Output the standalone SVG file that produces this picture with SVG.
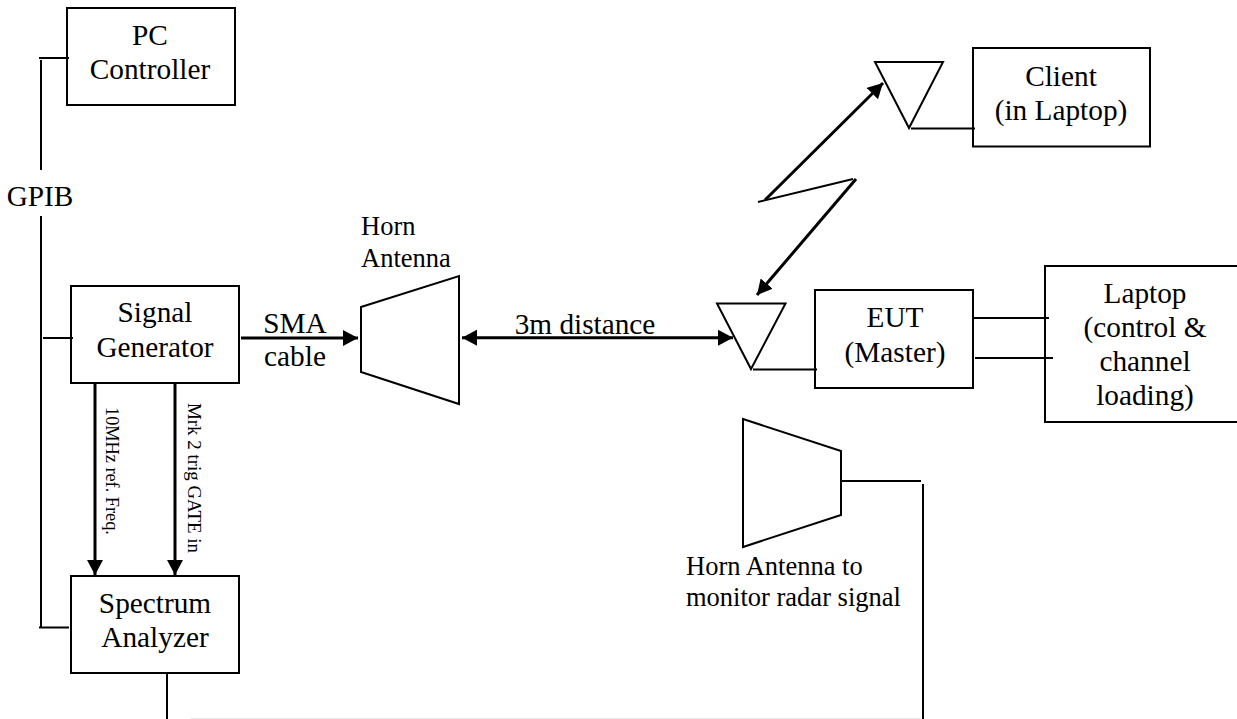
<svg xmlns="http://www.w3.org/2000/svg" width="1237" height="719" viewBox="0 0 1237 719">
<style>
text{font-family:"Liberation Serif","Times New Roman",serif;fill:#000}
.l{font-size:29.300px;text-anchor:middle}
.s{font-size:26.500px}
.r{font-size:18.300px}
.q{font-size:18.900px}
.b{fill:none;stroke:#000;stroke-width:2}
.c{fill:none;stroke:#000;stroke-width:2}
.a{fill:none;stroke:#000;stroke-width:3}
</style>
<defs>
<marker id="h" markerUnits="userSpaceOnUse" markerWidth="16" markerHeight="16" refX="15" refY="8" orient="auto-start-reverse"><path d="M0 0L15 8L0 16Z" fill="#000"/></marker>
</defs>
<rect width="1237" height="719" fill="#fff"/>
<g id="pc-controller"><rect class="b" x="67" y="8" width="168" height="97"/><text class="l" x="150" y="45">PC</text><text class="l" x="150" y="79">Controller</text></g>
<g id="gpib"><text class="l" x="40" y="206">GPIB</text></g>
<g id="signal-generator"><rect class="b" x="71" y="286" width="168" height="97"/><text class="l" x="155" y="322">Signal</text><text class="l" x="155" y="357">Generator</text></g>
<g id="spectrum-analyzer"><rect class="b" x="71" y="576" width="168" height="97"/><text class="l" x="155" y="613">Spectrum</text><text class="l" x="155" y="647">Analyzer</text></g>
<g id="sma-label"><text class="l" x="295" y="333">SMA</text><text class="l" x="295" y="366">cable</text></g>
<g id="horn-antenna"><polygon class="b" points="361,307 459,276 459,404 361,372"/><text class="s" x="361" y="235">Horn</text><text class="s" x="361" y="267">Antenna</text></g>
<g id="distance-label"><text class="l" x="585" y="334">3m distance</text></g>
<g id="ref-label"><text class="r" transform="translate(106 407) rotate(90)">10MHz ref. Freq.</text></g>
<g id="gate-label"><text class="q" transform="translate(188 403) rotate(90)">Mrk 2 trig GATE in</text></g>
<g id="client-antenna"><polygon class="b" points="875,62 943,62 909,128"/></g>
<g id="client"><rect class="b" x="973" y="48" width="177" height="98.500"/><text class="l" x="1061" y="86">Client</text><text class="l" x="1061" y="120">(in Laptop)</text></g>
<g id="eut-antenna"><polygon class="b" points="717,303.500 785.500,303.500 751,369"/></g>
<g id="eut"><rect class="b" x="815" y="290" width="158" height="98"/><text class="l" x="895" y="327">EUT</text><text class="l" x="895" y="362">(Master)</text></g>
<g id="laptop"><rect class="b" x="1045" y="266" width="200" height="156"/><text class="l" x="1145" y="303">Laptop</text><text class="l" x="1145" y="337">(control &amp;</text><text class="l" x="1145" y="371">channel</text><text class="l" x="1145" y="405">loading)</text></g>
<g id="monitor-horn"><polygon class="b" points="743,419 841,451 841,515 743,547"/><text class="s" x="686" y="575">Horn Antenna to</text><text class="s" x="686" y="606">monitor radar signal</text></g>
<g id="connectors">
<path class="c" d="M39 58H69M41 60V170M41 216V627M39 627.500H69M43 338H73M167 673V719M842 481H921M923 484V719M911 128.500H975M753 369.500H817M972 318H1049M975 358H1053"/>
<path d="M190 718.500H921" fill="none" stroke="#e8e8e8" stroke-width="1"/>
<path class="a" d="M241 338H358" marker-end="url(#h)"/>
<path class="a" d="M462 337.700H733" marker-start="url(#h)" marker-end="url(#h)"/>
<path class="a" d="M95 384V575" marker-end="url(#h)"/>
<path class="a" d="M175 384V575" marker-end="url(#h)"/>
<path class="a" d="M765 200L883 83" marker-end="url(#h)"/>
<path class="c" d="M758 202L853 179"/>
<path class="a" d="M856 179L757 295" marker-end="url(#h)"/>
</g>
</svg>
